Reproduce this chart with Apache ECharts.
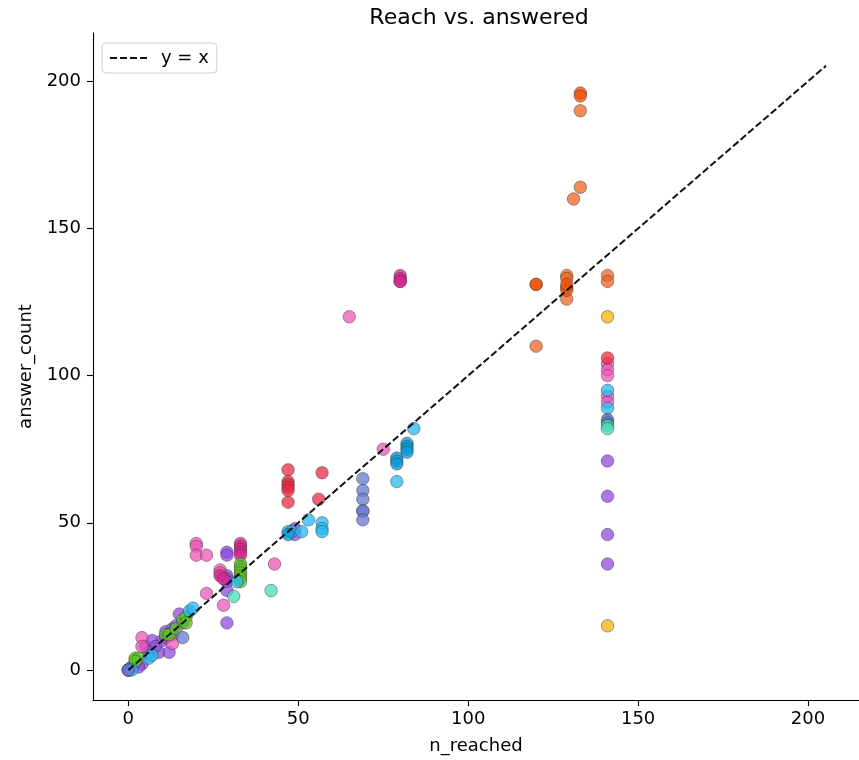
<!DOCTYPE html>
<html>
<head>
<meta charset="utf-8">
<script src="https://cdn.jsdelivr.net/npm/echarts@6/dist/echarts.min.js"></script>
<style>html,body{margin:0;padding:0;background:#fff}#c{width:859px;height:760px}</style>
</head>
<body>
<div id="c"></div>
<script>
const xTicks = [0, 50, 100, 150, 200];
const yTicks = [0, 50, 100, 150, 200];
const refLine = [[0, 0], [205.3, 205.3]];

const purplePts = [[0,0],[0,0],[0,0],[1,1],[2,2],[4,2],[3,1],[5,8],[7,10],[9,6],[10,10],[11,11],[11,13],[12,6],[13,14],[13,12],[14,15],[8,8],[6,6],[15,19],[16,16],[29,40],[29,39],[29,32],[29,31],[29,30],[29,27],[29,16],[49,48],[49,46],[141,71],[141,59],[141,46],[141,36]];
const pinkPts = [[4,11],[4,8],[13,9],[20,43],[20,42],[20,39],[23,39],[23,26],[28,22],[27,34],[27,33],[43,36],[65,120],[75,75],[141,104],[141,102],[141,100],[141,93],[141,91]];
const magentaPts = [[33,43],[33,42],[33,41],[33,40],[33,39],[27,32],[28,31],[80,134],[80,133],[80,132],[80,132]];
const greenPts = [[2,4],[3,4],[2,3],[11,12],[12,12],[14,14],[16,17],[17,18],[17,16],[33,36],[33,35],[33,34],[33,33],[33,32],[33,31],[33,30]];
const cyanPts = [[1,0],[6,4],[7,5],[18,20],[19,21],[32,30],[47,47],[48,47],[51,47],[53,51],[57,50],[57,48],[57,47],[79,64],[84,82],[141,95],[141,89]];
const bluePts = [[47,46],[79,72],[79,71],[79,70],[82,77],[82,76],[82,75],[82,74]];
const slatePts = [[0,0],[16,11],[69,65],[69,61],[69,58],[69,54],[69,54],[69,51],[141,84]];
const darkSlatePts = [[141,85]];
const redPts = [[47,68],[47,64],[47,63],[47,62],[47,61],[47,57],[57,67],[56,58],[141,106]];
const orangePts = [[133,190],[133,164],[131,160],[129,134],[129,133],[129,130],[129,126],[141,134],[141,132],[120,110]];
const darkOrangePts = [[133,196],[133,195],[120,131],[120,131],[129,129],[129,131]];
const yellowPts = [[141,120],[141,15]];
const tealPts = [[31,25],[42,27],[141,83],[141,82]];

const groups = [
  ['purple', purplePts, '#904be0'],
  ['pink', pinkPts, '#ed55b8'],
  ['magenta', magentaPts, '#d8258f'],
  ['green', greenPts, '#5bc523'],
  ['cyan', cyanPts, '#25b8f0'],
  ['blue', bluePts, '#0a9ad8'],
  ['slate', slatePts, '#6578cb'],
  ['darkslate', darkSlatePts, '#4a64a0'],
  ['red', redPts, '#e82b43'],
  ['orange', orangePts, '#ed6520'],
  ['darkorange', darkOrangePts, '#f05005'],
  ['yellow', yellowPts, '#f8b107'],
  ['teal', tealPts, '#4bddbb']
];

const font = 'DejaVu Sans';
const series = groups.map(g => ({
  name: g[0], type: 'scatter', data: g[1], symbolSize: 12.5, z: 2,
  itemStyle: { color: g[2], opacity: 0.75, borderColor: '#333', borderWidth: 0.6 },
  emphasis: { disabled: true }
}));
series.push({
  name: 'y = x', type: 'line', data: refLine, symbol: 'none', z: 5,
  itemStyle: { color: '#111' },
  lineStyle: { color: '#111', width: 2, type: [7, 3] }, silent: true
});

const chart = echarts.init(document.getElementById('c'), null, { renderer: 'canvas' });
chart.setOption({
  animation: false,
  backgroundColor: '#fff',
  textStyle: { fontFamily: font },
  title: {
    text: 'Reach vs. answered', left: 474, top: 2, textAlign: 'center',
    textStyle: { fontFamily: font, fontSize: 22, fontWeight: 'normal', color: '#000' }
  },
  legend: {
    data: [{ name: 'y = x', icon: 'path://M0,0H7V2H0Z M10,0H17V2H10Z M20,0H27V2H20Z M30,0H37V2H30Z' }],
    left: 102, top: 43, orient: 'vertical',
    itemWidth: 37, itemHeight: 2, padding: [6, 8, 6, 8],
    itemStyle: { color: '#111', borderWidth: 0 },
    borderColor: '#d0d0d0', borderWidth: 1, borderRadius: 4, backgroundColor: '#fff',
    textStyle: { fontFamily: font, fontSize: 18, color: '#000', padding: [0, 0, 0, 9] }
  },
  grid: { left: 93, right: 0, top: 33, bottom: 58, containLabel: false },
  xAxis: {
    type: 'value', min: -10.4, max: 215,
    name: 'n_reached', nameLocation: 'middle', nameGap: 37,
    nameTextStyle: { fontFamily: font, fontSize: 18, color: '#000' },
    axisLine: { show: true, onZero: false, lineStyle: { color: '#000', width: 1.1 } },
    axisTick: { show: true, inside: false, length: 6, customValues: xTicks, lineStyle: { color: '#000', width: 1.1 } },
    axisLabel: { customValues: xTicks, fontFamily: font, fontSize: 18, color: '#000', margin: 10 },
    splitLine: { show: false }
  },
  yAxis: {
    type: 'value', min: -10.2, max: 216.4,
    name: 'answer_count', nameLocation: 'middle', nameGap: 49,
    nameTextStyle: { fontFamily: font, fontSize: 18, color: '#000' },
    axisLine: { show: true, onZero: false, lineStyle: { color: '#000', width: 1.1 } },
    axisTick: { show: true, inside: false, length: 6, customValues: yTicks, lineStyle: { color: '#000', width: 1.1 } },
    axisLabel: { customValues: yTicks, fontFamily: font, fontSize: 18, color: '#000', margin: 12 },
    splitLine: { show: false }
  },
  series: series
});
</script>
</body>
</html>
